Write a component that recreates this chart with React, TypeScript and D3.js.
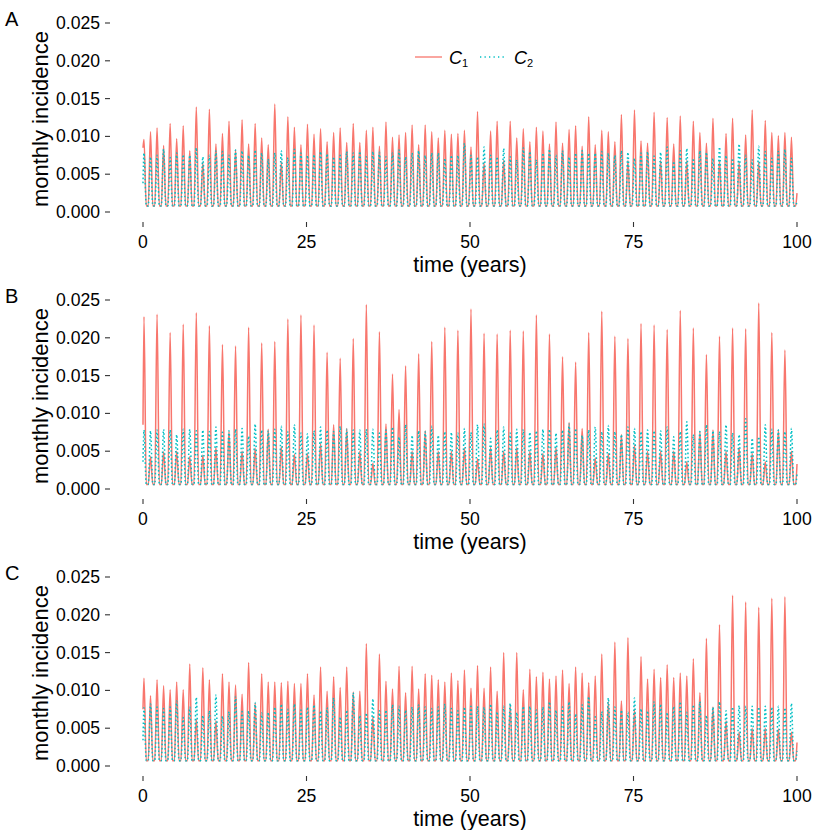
import React from 'react';
import * as d3 from 'd3';

const panelLabels = ['A', 'B', 'C'];
const xTicks = [0, 25, 50, 75, 100];
const yTicks = [0, 0.005, 0.01, 0.015, 0.02, 0.025];

// yearly peak heights, years 0..99
const peaksA1 = [
  0.0096, 0.0106, 0.0111, 0.0088, 0.0117, 0.0097, 0.0114, 0.0081, 0.0139, 0.0065,
  0.0136, 0.0090, 0.0104, 0.0120, 0.0082, 0.0122, 0.0090, 0.0117, 0.0098, 0.0089,
  0.0143, 0.0066, 0.0126, 0.0112, 0.0089, 0.0116, 0.0103, 0.0110, 0.0093, 0.0105,
  0.0111, 0.0092, 0.0117, 0.0092, 0.0108, 0.0112, 0.0087, 0.0119, 0.0099, 0.0102,
  0.0105, 0.0115, 0.0089, 0.0115, 0.0106, 0.0098, 0.0108, 0.0103, 0.0104, 0.0108,
  0.0086, 0.0133, 0.0065, 0.0107, 0.0120, 0.0068, 0.0120, 0.0098, 0.0110, 0.0093,
  0.0112, 0.0107, 0.0090, 0.0119, 0.0091, 0.0109, 0.0114, 0.0087, 0.0126, 0.0089,
  0.0108, 0.0106, 0.0093, 0.0129, 0.0068, 0.0135, 0.0094, 0.0091, 0.0132, 0.0068,
  0.0125, 0.0090, 0.0127, 0.0068, 0.0120, 0.0105, 0.0091, 0.0124, 0.0068, 0.0104,
  0.0124, 0.0066, 0.0102, 0.0135, 0.0066, 0.0121, 0.0105, 0.0101, 0.0105, 0.0099,
];
const peaksA2 = [
  0.0078, 0.0073, 0.0075, 0.0083, 0.0072, 0.0078, 0.0076, 0.0075, 0.0085, 0.0073,
  0.0075, 0.0081, 0.0080, 0.0075, 0.0082, 0.0081, 0.0075, 0.0082, 0.0078, 0.0070,
  0.0078, 0.0081, 0.0072, 0.0083, 0.0078, 0.0075, 0.0076, 0.0080, 0.0077, 0.0073,
  0.0075, 0.0080, 0.0078, 0.0080, 0.0073, 0.0080, 0.0079, 0.0073, 0.0078, 0.0082,
  0.0073, 0.0078, 0.0081, 0.0075, 0.0078, 0.0078, 0.0071, 0.0075, 0.0075, 0.0091,
  0.0075, 0.0073, 0.0086, 0.0075, 0.0073, 0.0084, 0.0073, 0.0069, 0.0085, 0.0080,
  0.0069, 0.0078, 0.0083, 0.0075, 0.0081, 0.0073, 0.0078, 0.0081, 0.0078, 0.0078,
  0.0080, 0.0078, 0.0075, 0.0081, 0.0079, 0.0071, 0.0078, 0.0080, 0.0074, 0.0079,
  0.0086, 0.0067, 0.0081, 0.0084, 0.0071, 0.0081, 0.0079, 0.0071, 0.0086, 0.0075,
  0.0071, 0.0090, 0.0075, 0.0069, 0.0087, 0.0080, 0.0071, 0.0080, 0.0083, 0.0071,
];
const peaksB1 = [
  0.0228, 0.0043, 0.0231, 0.0049, 0.0207, 0.0050, 0.0218, 0.0043, 0.0233, 0.0045,
  0.0216, 0.0055, 0.0191, 0.0076, 0.0189, 0.0050, 0.0214, 0.0054, 0.0193, 0.0079,
  0.0195, 0.0056, 0.0225, 0.0046, 0.0230, 0.0047, 0.0217, 0.0060, 0.0181, 0.0085,
  0.0173, 0.0080, 0.0199, 0.0050, 0.0244, 0.0034, 0.0208, 0.0086, 0.0152, 0.0105,
  0.0163, 0.0050, 0.0179, 0.0077, 0.0195, 0.0050, 0.0214, 0.0050, 0.0210, 0.0054,
  0.0238, 0.0040, 0.0206, 0.0055, 0.0205, 0.0050, 0.0210, 0.0055, 0.0209, 0.0050,
  0.0230, 0.0047, 0.0205, 0.0055, 0.0175, 0.0088, 0.0168, 0.0080, 0.0207, 0.0041,
  0.0235, 0.0047, 0.0202, 0.0072, 0.0199, 0.0058, 0.0219, 0.0050, 0.0217, 0.0050,
  0.0211, 0.0050, 0.0236, 0.0036, 0.0213, 0.0076, 0.0178, 0.0078, 0.0202, 0.0050,
  0.0213, 0.0055, 0.0212, 0.0047, 0.0246, 0.0036, 0.0207, 0.0078, 0.0184, 0.0050,
];
const peaksB2 = [
  0.0078, 0.0077, 0.0078, 0.0079, 0.0078, 0.0072, 0.0079, 0.0079, 0.0077, 0.0078,
  0.0076, 0.0082, 0.0075, 0.0077, 0.0079, 0.0080, 0.0070, 0.0086, 0.0078, 0.0077,
  0.0079, 0.0083, 0.0076, 0.0085, 0.0074, 0.0073, 0.0077, 0.0082, 0.0078, 0.0076,
  0.0083, 0.0079, 0.0078, 0.0078, 0.0079, 0.0079, 0.0074, 0.0078, 0.0082, 0.0069,
  0.0085, 0.0071, 0.0077, 0.0076, 0.0083, 0.0071, 0.0076, 0.0075, 0.0074, 0.0080,
  0.0075, 0.0085, 0.0086, 0.0067, 0.0078, 0.0082, 0.0074, 0.0079, 0.0079, 0.0075,
  0.0077, 0.0079, 0.0079, 0.0074, 0.0078, 0.0086, 0.0080, 0.0071, 0.0078, 0.0082,
  0.0076, 0.0084, 0.0076, 0.0072, 0.0082, 0.0080, 0.0076, 0.0078, 0.0077, 0.0077,
  0.0082, 0.0069, 0.0076, 0.0089, 0.0072, 0.0076, 0.0085, 0.0077, 0.0076, 0.0085,
  0.0074, 0.0072, 0.0093, 0.0067, 0.0069, 0.0085, 0.0079, 0.0078, 0.0076, 0.0080,
];
const peaksC1 = [
  0.0116, 0.0093, 0.0114, 0.0106, 0.0101, 0.0111, 0.0101, 0.0135, 0.0062, 0.0130,
  0.0114, 0.0060, 0.0122, 0.0111, 0.0107, 0.0095, 0.0137, 0.0083, 0.0122, 0.0111,
  0.0111, 0.0110, 0.0112, 0.0109, 0.0109, 0.0122, 0.0094, 0.0131, 0.0099, 0.0118,
  0.0104, 0.0131, 0.0098, 0.0099, 0.0162, 0.0065, 0.0148, 0.0112, 0.0102, 0.0132,
  0.0097, 0.0132, 0.0102, 0.0122, 0.0120, 0.0114, 0.0111, 0.0123, 0.0113, 0.0127,
  0.0103, 0.0133, 0.0103, 0.0131, 0.0099, 0.0150, 0.0081, 0.0150, 0.0101, 0.0128,
  0.0118, 0.0124, 0.0115, 0.0119, 0.0127, 0.0109, 0.0131, 0.0123, 0.0110, 0.0119,
  0.0148, 0.0085, 0.0164, 0.0086, 0.0170, 0.0075, 0.0145, 0.0115, 0.0128, 0.0117,
  0.0134, 0.0117, 0.0123, 0.0119, 0.0142, 0.0097, 0.0169, 0.0078, 0.0187, 0.0060,
  0.0226, 0.0045, 0.0217, 0.0050, 0.0210, 0.0050, 0.0222, 0.0049, 0.0224, 0.0045,
];
const peaksC2 = [
  0.0077, 0.0082, 0.0078, 0.0076, 0.0078, 0.0086, 0.0064, 0.0078, 0.0091, 0.0067,
  0.0073, 0.0094, 0.0066, 0.0072, 0.0092, 0.0072, 0.0073, 0.0084, 0.0070, 0.0071,
  0.0078, 0.0082, 0.0075, 0.0082, 0.0074, 0.0078, 0.0081, 0.0073, 0.0077, 0.0090,
  0.0065, 0.0074, 0.0097, 0.0067, 0.0070, 0.0089, 0.0073, 0.0074, 0.0081, 0.0079,
  0.0074, 0.0078, 0.0081, 0.0078, 0.0076, 0.0078, 0.0082, 0.0076, 0.0073, 0.0078,
  0.0079, 0.0079, 0.0078, 0.0082, 0.0072, 0.0079, 0.0083, 0.0071, 0.0079, 0.0079,
  0.0074, 0.0078, 0.0085, 0.0074, 0.0078, 0.0085, 0.0069, 0.0081, 0.0092, 0.0065,
  0.0072, 0.0090, 0.0078, 0.0074, 0.0071, 0.0090, 0.0076, 0.0073, 0.0085, 0.0082,
  0.0071, 0.0079, 0.0085, 0.0071, 0.0081, 0.0085, 0.0067, 0.0078, 0.0085, 0.0073,
  0.0078, 0.0080, 0.0079, 0.0079, 0.0078, 0.0079, 0.0078, 0.0079, 0.0077, 0.0083,
];

// seasonal low between peaks, and first / last value [C1, C2]
const troughs = [0.0008, 0.0006, 0.0007];
const startValues = [[0.0085, 0.0038], [0.0085, 0.0036], [0.0075, 0.0034]];
const endValues = [[0.0025, 0.0015], [0.0033, 0.002], [0.0031, 0.002]];

const peaks = [[peaksA1, peaksA2], [peaksB1, peaksB2], [peaksC1, peaksC2]];

const colors = ['#F8766D', '#00BFC4'];
const font = '"Liberation Sans", Arial, Helvetica, sans-serif';
const dots = '1.6 2.4';

interface Pt { t: number; v: number; }

function buildSeries(p: number, s: number): Pt[] {
  const pts: Pt[] = [{ t: 0, v: startValues[p][s] }];
  peaks[p][s].forEach((v, k) => {
    pts.push({ t: k + 0.15, v });
    pts.push({ t: k + 0.5, v: troughs[p] });
    pts.push({ t: k + 0.8, v: troughs[p] });
  });
  pts.push({ t: 100, v: endValues[p][s] });
  return pts;
}

const Panel: React.FC<{ idx: number }> = ({ idx }) => {
  const off = idx * 277;
  const x = d3.scaleLinear().domain([0, 100]).range([143, 797]);
  const y = d3.scaleLinear().domain([0, 0.025]).range([212 + off, 23 + off]);
  const line = d3.line<Pt>().x(d => x(d.t)).y(d => y(d.v)).curve(d3.curveMonotoneX);
  const fmt = d3.format('.3f');
  const axisY = 222 + off;

  return (
    <g>
      <text x={5} y={26 + off} fontSize={20} fontFamily={font}>{panelLabels[idx]}</text>
      {yTicks.map(t => (
        <g key={t}>
          <line x1={105} x2={110} y1={y(t)} y2={y(t)} stroke="#333" strokeWidth={1.1} />
          <text x={100} y={y(t) + 6} textAnchor="end" fontSize={17.6} fontFamily={font}>{fmt(t)}</text>
        </g>
      ))}
      {xTicks.map(t => (
        <g key={t}>
          <line x1={x(t)} x2={x(t)} y1={axisY} y2={axisY + 5} stroke="#333" strokeWidth={1.1} />
          <text x={x(t)} y={248 + off} textAnchor="middle" fontSize={17.6} fontFamily={font}>{t}</text>
        </g>
      ))}
      <text x={470} y={271.5 + off} textAnchor="middle" fontSize={21.5} fontFamily={font}>time (years)</text>
      <text transform={`translate(48,${119 + off}) rotate(-90)`} textAnchor="middle" fontSize={22} fontFamily={font}>
        monthly incidence
      </text>
      <path d={line(buildSeries(idx, 0)) || ''} fill="none" stroke={colors[0]} strokeWidth={1.5} />
      <path d={line(buildSeries(idx, 1)) || ''} fill="none" stroke={colors[1]} strokeWidth={1.5} strokeDasharray={dots} />
    </g>
  );
};

const Legend: React.FC = () => (
  <g fontFamily={font}>
    <line x1={415} x2={442} y1={57} y2={57} stroke={colors[0]} strokeWidth={1.3} />
    <text x={449} y={64} fontSize={18}>
      <tspan fontStyle="italic">C</tspan>
      <tspan fontSize={11} dy={3}>1</tspan>
    </text>
    <line x1={480} x2={507} y1={57} y2={57} stroke={colors[1]} strokeWidth={1.3} strokeDasharray="1.3 3.2" />
    <text x={514} y={64} fontSize={18}>
      <tspan fontStyle="italic">C</tspan>
      <tspan fontSize={11} dy={3}>2</tspan>
    </text>
  </g>
);

export default function App() {
  return (
    <svg width={830} height={830} style={{ position: 'absolute', left: 0, top: 0, background: '#fff' }}>
      {[0, 1, 2].map(i => <Panel key={i} idx={i} />)}
      <Legend />
    </svg>
  );
}
